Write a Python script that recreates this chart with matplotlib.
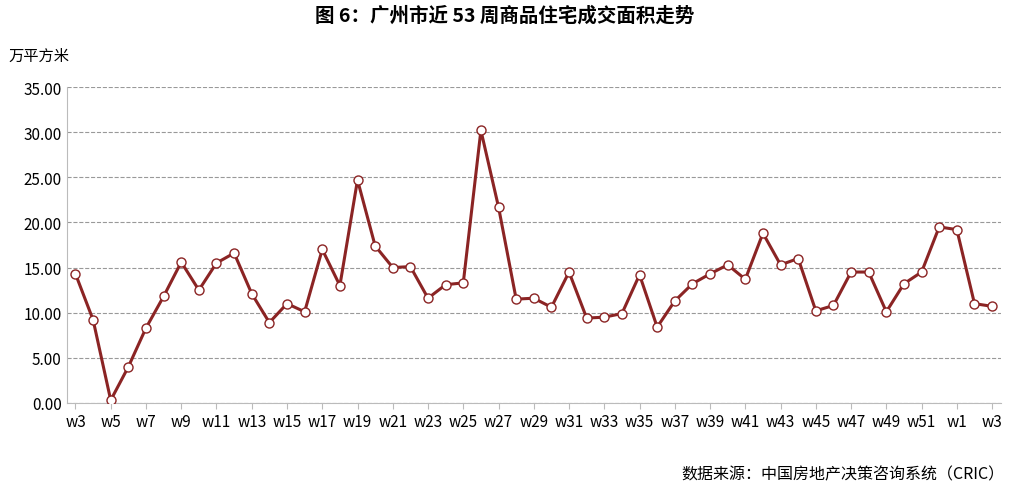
import matplotlib
matplotlib.use("Agg")
import matplotlib.pyplot as plt

plt.rcParams['font.family'] = ['Noto Sans CJK SC', 'DejaVu Sans']

weeks = [f"w{i}" for i in range(3, 53)] + ["w1", "w2", "w3"]
area = [14.3, 9.2, 0.3, 4.0, 8.3, 11.8, 15.6, 12.5, 15.5, 16.6,
        12.1, 8.9, 11.0, 10.1, 17.0, 13.0, 24.7, 17.4, 15.0, 15.1,
        11.6, 13.1, 13.3, 30.2, 21.7, 11.5, 11.6, 10.6, 14.5, 9.4,
        9.5, 9.9, 14.2, 8.4, 11.3, 13.2, 14.3, 15.3, 13.7, 18.8,
        15.3, 16.0, 10.2, 10.8, 14.5, 14.5, 10.1, 13.2, 14.5, 19.5,
        19.2, 11.0, 10.7]
yticks = [0, 5, 10, 15, 20, 25, 30, 35]

fig = plt.figure(figsize=(10.10, 4.89), dpi=100)
ax = fig.add_axes([0.066, 0.174, 0.925, 0.646])

x = list(range(len(area)))
ax.plot(x, area, color="#8b2424", lw=2.2, marker="o", ms=6.5,
        mfc="white", mec="#8b2424", mew=1.0, zorder=3)

ax.set_xlim(-0.5, len(area) - 0.5)
ax.set_ylim(0, 35)
ax.set_yticks(yticks)
ax.set_yticklabels([f"{v:.2f}" for v in yticks], fontsize=11)
ax.set_xticks(x[::2])
ax.set_xticklabels(weeks[::2], fontsize=11)
ax.grid(axis="y", ls="--", color="#999999", lw=0.8)
for s in ["top", "right"]:
    ax.spines[s].set_visible(False)
for s in ["left", "bottom"]:
    ax.spines[s].set_color("#bbbbbb")
ax.tick_params(axis="x", length=4, color="#bbbbbb")
ax.tick_params(axis="y", length=0)

fig.text(0.5, 0.955, "图 6：广州市近 53 周商品住宅成交面积走势", ha="center",
         fontsize=14, fontweight="bold")
fig.text(0.008, 0.875, "万平方米", fontsize=11)
fig.text(0.995, 0.02, "数据来源：中国房地产决策咨询系统（CRIC）", ha="right",
         fontsize=11.5)

fig.savefig("out.png", dpi=100)
